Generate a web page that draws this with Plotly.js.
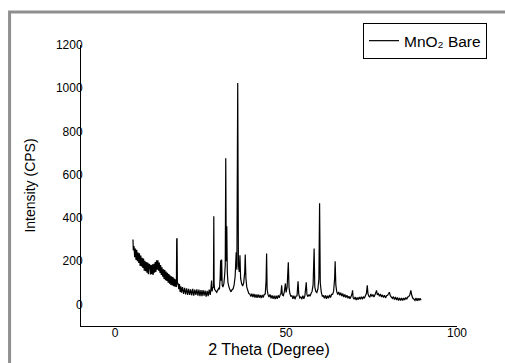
<!DOCTYPE html>
<html>
<head>
<meta charset="utf-8">
<script src="https://cdn.plot.ly/plotly-3.0.1.min.js"></script>
<style>html,body{margin:0;padding:0;background:#fff;}#chart{width:505px;height:363px;}</style>
</head>
<body>
<div id="chart"></div>
<script>
// 2 Theta (degree) and intensity (CPS)
const twoTheta = [
5.2,5.3,5.5,5.7,5.9,6.1,6.3,6.5,6.7,6.9,7.1,7.3,7.5,7.7,7.9,8.1,8.3,8.5,8.7,8.9,9.1,9.3,9.5,9.7,9.9,
10.1,10.3,10.5,10.7,10.9,11.1,11.3,11.5,11.7,11.9,12.1,12.3,12.5,12.7,12.9,13.1,13.3,13.5,13.7,13.9,
14.1,14.3,14.5,14.7,14.9,15.1,15.3,15.5,15.7,15.9,16.1,16.3,16.5,16.7,16.9,17.1,17.3,17.5,17.7,17.9,
18.0,18.1,18.2,18.4,18.6,18.8,19.0,19.2,19.4,19.7,20.0,20.3,20.6,20.9,21.2,21.5,21.8,22.1,22.4,22.7,
23.0,23.3,23.6,23.9,24.2,24.5,24.8,25.1,25.4,25.7,26.0,26.3,26.6,26.9,27.2,27.5,27.8,28.0,28.2,28.35,
28.5,28.75,28.85,28.95,29.1,29.4,29.7,30.0,30.3,30.5,30.7,30.85,31.0,31.15,31.3,31.5,31.8,32.0,32.2,
32.35,32.5,32.65,32.8,33.0,33.3,33.6,33.9,34.2,34.5,34.8,35.1,35.4,35.6,35.85,36.05,36.3,36.5,36.7,
37.0,37.3,37.6,37.9,38.05,38.25,38.5,38.8,39.1,39.4,39.7,40.0,40.3,40.6,40.9,41.2,41.5,41.8,42.1,42.4,
42.7,43.0,43.3,43.6,43.9,44.15,44.3,44.45,44.7,45.0,45.3,45.6,45.9,46.2,46.5,46.8,47.1,47.4,47.7,48.0,
48.3,48.5,48.7,48.9,49.2,49.5,49.8,50.0,50.3,50.65,50.85,51.1,51.4,51.7,52.0,52.3,52.6,52.9,53.2,53.5,
53.7,54.0,54.3,54.6,54.9,55.2,55.5,55.9,56.1,56.4,56.7,57.0,57.3,57.6,57.9,58.2,58.4,58.7,59.0,59.3,
59.6,59.8,60.0,60.3,60.6,60.9,61.2,61.5,61.8,62.1,62.4,62.7,63.0,63.3,63.6,63.9,64.2,64.35,64.55,64.8,
65.1,65.4,65.7,66.0,66.3,66.6,66.9,67.2,67.5,67.8,68.1,68.4,68.7,69.0,69.3,69.45,69.6,69.9,70.2,70.5,
70.8,71.1,71.4,71.7,72.0,72.3,72.6,72.9,73.2,73.5,73.75,73.95,74.2,74.5,74.8,75.1,75.4,75.7,76.0,76.3,
76.45,76.7,77.0,77.3,77.6,77.9,78.2,78.5,78.8,79.1,79.4,79.7,80.0,80.2,80.5,80.8,81.1,81.4,81.7,82.0,
82.3,82.6,82.9,83.2,83.5,83.8,84.1,84.4,84.7,85.0,85.3,85.6,85.9,86.2,86.5,86.8,87.1,87.4,87.7,88.0,
88.3,88.6,88.9,89.2,89.5
];
const intensity = [
300,250,270,218,258,205,252,200,240,192,236,178,226,175,216,168,212,156,202,154,196,146,194,140,186,
184,138,182,140,186,136,188,146,196,150,204,160,204,156,194,146,182,136,172,128,
162,118,160,112,152,108,146,100,140,96,134,90,130,88,126,84,120,82,116,80,
300,306,95,96,70,94,58,84,54,80,48,76,46,74,44,72,44,70,42,72,
40,68,44,70,40,68,38,66,38,66,40,64,36,62,38,68,44,70,110,60,
75,80,408,90,70,62,56,66,74,70,120,204,110,208,90,80,96,130,180,
676,200,361,150,100,80,66,58,68,72,90,130,241,160,1024,180,150,227,120,
95,85,100,150,231,120,80,64,50,48,36,50,34,48,32,46,30,46,31,44,
29,44,32,46,48,110,235,70,46,34,46,28,42,26,40,24,40,26,42,30,
46,50,88,44,40,60,97,55,80,195,80,50,38,40,26,40,24,38,40,107,
48,30,34,24,40,26,40,102,45,36,46,38,50,60,90,259,80,60,55,70,
120,468,100,55,38,40,28,42,26,40,28,44,32,46,46,60,120,199,90,60,
46,58,42,54,38,50,34,46,32,42,28,38,26,36,50,65,32,24,34,20,
32,22,34,24,36,24,36,28,40,50,88,50,38,34,48,36,46,34,44,56,
65,44,50,38,48,34,44,32,42,30,40,42,50,56,40,34,28,36,22,34,
20,32,18,30,18,30,18,30,20,32,24,34,36,44,65,40,28,24,18,30,
16,28,18,28,19
];
const seriesName = 'MnO₂ Bare';
const xTicks = [0, 50, 100];
const yTicks = [0, 200, 400, 600, 800, 1000, 1200];

const font = 'Liberation Sans, Arial, sans-serif';
Plotly.newPlot('chart', [{
  x: twoTheta, y: intensity, type: 'scatter', mode: 'lines', name: seriesName,
  line: {color: '#000', width: 1.2, simplify: false}
}], {
  width: 505, height: 363,
  margin: {l: 81, r: 48, t: 45, b: 37},
  paper_bgcolor: '#fff', plot_bgcolor: '#fff',
  font: {family: font, color: '#000'},
  showlegend: true,
  legend: {x: 0.75, y: 1.078, xanchor: 'left', yanchor: 'top', bgcolor: '#fff',
    bordercolor: '#000', borderwidth: 1, font: {size: 15.5, family: font}, tracegroupgap: 0},
  xaxis: {range: [-10, 100], tickvals: xTicks, ticktext: xTicks.map(String), showgrid: false, zeroline: false,
    showline: true, linecolor: '#000', linewidth: 1, ticks: '', tickfont: {size: 12},
    ticklabelstandoff: -4,
    title: {text: '2 Theta (Degree)', font: {size: 16}, standoff: 4}},
  yaxis: {range: [-100, 1200], tickvals: yTicks, ticktext: yTicks.map(String), showgrid: false, zeroline: false,
    showline: true, linecolor: '#000', linewidth: 1, ticks: '', tickfont: {size: 12},
    ticklabelstandoff: -5,
    title: {text: 'Intensity (CPS)', font: {size: 14}, standoff: 16}},
  shapes: [{type: 'rect', xref: 'paper', yref: 'paper', x0: -0.19, x1: 1.3, y0: -0.3, y1: 1.117,
    line: {color: '#8f8f8f', width: 3}, fillcolor: 'rgba(0,0,0,0)', layer: 'below'}]
}, {displayModeBar: false, staticPlot: true});
</script>
</body>
</html>
